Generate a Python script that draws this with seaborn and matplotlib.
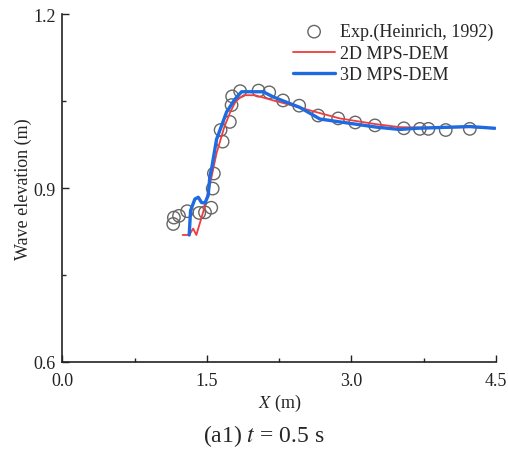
import numpy as np
import pandas as pd
import matplotlib
matplotlib.use('Agg')
import matplotlib.pyplot as plt
import seaborn as sns
from matplotlib.ticker import MultipleLocator, FormatStrFormatter

# experiment points (Heinrich, 1992)
exp_x = [1.15, 1.157, 1.21, 1.295, 1.42, 1.48, 1.545, 1.56, 1.572, 1.642, 1.663,
         1.738, 1.756, 1.762, 1.845, 2.036, 2.147, 2.29, 2.458, 2.655, 2.863,
         3.04, 3.245, 3.545, 3.711, 3.80, 3.98, 4.23]
exp_y = [0.838, 0.849, 0.852, 0.860, 0.857, 0.858, 0.866, 0.899, 0.925, 1.000, 0.980,
         1.014, 1.043, 1.058, 1.067, 1.068, 1.065, 1.051, 1.042, 1.025, 1.020,
         1.013, 1.008, 1.003, 1.002, 1.002, 1.000, 1.002]

# 2D MPS-DEM
x2d = [1.247, 1.316, 1.357, 1.39, 1.46, 1.53, 1.60, 1.68, 1.74, 1.80, 1.88, 2.0,
       2.19, 2.26, 2.655, 2.88, 3.26, 3.50, 3.80, 4.23, 4.49]
y2d = [0.819, 0.819, 0.830, 0.819, 0.858, 0.905, 0.960, 1.005, 1.030, 1.050, 1.060, 1.060,
       1.051, 1.048, 1.030, 1.020, 1.010, 1.005, 1.004, 1.005, 1.003]

# 3D MPS-DEM
x3d = [1.316, 1.33, 1.375, 1.41, 1.444, 1.479, 1.513, 1.531, 1.548, 1.60, 1.704, 1.79,
       1.86, 2.084, 2.19, 2.31, 2.465, 2.673, 2.88, 3.26, 3.50, 3.677, 4.23, 4.49]
y3d = [0.819, 0.861, 0.881, 0.884, 0.875, 0.874, 0.887, 0.921, 0.933, 0.984, 1.031, 1.053,
       1.066, 1.066, 1.057, 1.049, 1.039, 1.019, 1.014, 1.005, 1.001, 1.003, 1.006, 1.003]

sns.set_style("ticks")
plt.rcParams['font.family'] = ['Liberation Serif', 'DejaVu Serif']
plt.rcParams['mathtext.fontset'] = 'stix'

fig = plt.figure(figsize=(5.08, 4.56), dpi=100)
ax = fig.add_axes([0.123, 0.204, 0.853, 0.763])

sns.scatterplot(x=exp_x, y=exp_y, ax=ax, marker='o', s=80, facecolor='none',
                edgecolor='#666666', linewidth=1.0, label='Exp.(Heinrich, 1992)', zorder=2)
sns.lineplot(x=x2d, y=y2d, ax=ax, color='#F03C3C', linewidth=1.3, label='2D MPS-DEM', zorder=3)
sns.lineplot(x=x3d, y=y3d, ax=ax, color='#1E6AE0', linewidth=2.4, label='3D MPS-DEM', zorder=4)

ax.set_xlim(0, 4.5)
ax.set_ylim(0.6, 1.2)
ax.xaxis.set_major_locator(MultipleLocator(1.5))
ax.xaxis.set_minor_locator(MultipleLocator(0.75))
ax.yaxis.set_major_locator(MultipleLocator(0.3))
ax.yaxis.set_minor_locator(MultipleLocator(0.15))
ax.xaxis.set_major_formatter(FormatStrFormatter('%.1f'))
ax.yaxis.set_major_formatter(FormatStrFormatter('%.1f'))
ax.tick_params(which='major', direction='in', length=5, width=1, labelsize=13,
               colors='#222222')
ax.tick_params(axis='x', which='major', pad=7)
ax.tick_params(axis='y', which='major', pad=5)
ax.tick_params(which='minor', direction='in', length=3, width=1)
for s in ['top', 'right']:
    ax.spines[s].set_visible(False)
for s in ['left', 'bottom']:
    ax.spines[s].set_linewidth(1.2)
    ax.spines[s].set_color('#222222')

ax.set_xlabel('$X$ (m)', fontsize=13, labelpad=2)
ax.set_ylabel('Wave elevation (m)', fontsize=13, labelpad=1)
fig.text(0.52, 0.03, '(a1) $t$ = 0.5 s', ha='center', fontsize=17)

ax.legend(loc='upper right', bbox_to_anchor=(1.02, 1.005), frameon=False, fontsize=13,
          handlelength=2.3, handletextpad=0.3, labelspacing=0.25, borderaxespad=0.2)

plt.savefig('out.png', dpi=100)
